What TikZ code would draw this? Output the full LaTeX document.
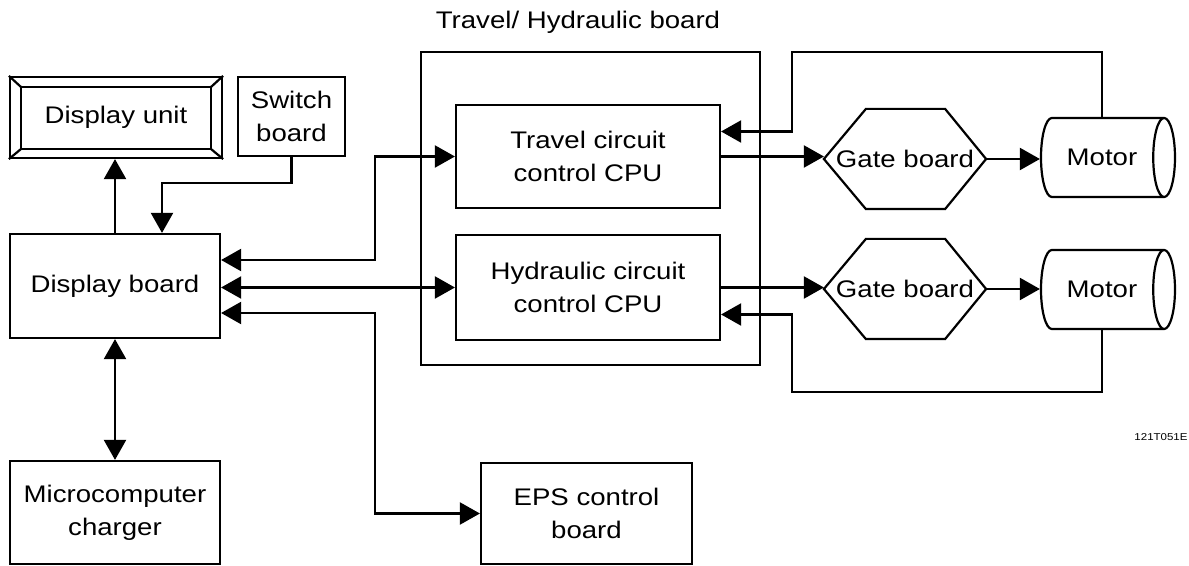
\documentclass[tikz,border=0pt]{standalone}
\usepackage{fontspec}
\setmainfont{Liberation Sans}[FakeStretch=1.15]
\usepackage{tikz}
\usetikzlibrary{shapes.geometric, arrows.meta, positioning, calc}

\begin{document}
\begin{tikzpicture}[
    x=0.5pt, y=-0.5pt,
    line width=1.1pt,
    txt/.style={font=\fontsize{12}{16.5}\selectfont},
    box/.style={draw,rectangle,align=center,inner sep=0pt,txt},
    gate/.style={rectangle,inner sep=0pt,minimum width=80pt,minimum height=49pt,txt},
    motor/.style={draw,cylinder,aspect=1.3,minimum width=39.5pt,minimum height=67pt,inner sep=0pt,txt},
    arr/.style={-{Triangle[length=10pt,width=11pt]}},
    darr/.style={{Triangle[length=10pt,width=11pt]}-{Triangle[length=10pt,width=11pt]}},
  ]
    \useasboundingbox (0,0) rectangle (1189,566);

    % left column
    \node[box, minimum width=106pt, minimum height=40.5pt] (dunit) at (116,117.5) {Display unit};
    \draw ($(dunit.north west)+(12,11)$) rectangle ($(dunit.south east)+(-12,-10)$);
    \foreach \c/\dx/\dy in {north west/12/11, north east/-12/11, south west/12/-10, south east/-12/-10}
      \draw (dunit.\c) -- ++(\dx,\dy);
    \node[box, minimum width=53.5pt, minimum height=39.5pt] (switch) at (291.5,116.5) {Switch\\board};
    \node[box, minimum width=105pt, minimum height=52pt] (dboard) at (115,286) {Display board};
    \node[box, minimum width=105pt, minimum height=51.5pt] (charger) at (115,512.5) {Microcomputer\\charger};

    % travel / hydraulic board
    \node[box, minimum width=169.5pt, minimum height=156.5pt] (thboard) at (590.5,208.5) {};
    \node[txt] (thtitle) at (578,22) {Travel/ Hydraulic board};
    \node[box, minimum width=132pt, minimum height=51.5pt] (travel) at (588,156.5) {Travel circuit\\control CPU};
    \node[box, minimum width=132pt, minimum height=52.5pt] (hydraulic) at (588,287.5) {Hydraulic circuit\\control CPU};
    \node[box, minimum width=105.5pt, minimum height=50.5pt] (eps) at (586.5,513.5) {EPS control\\board};

    % gate boards and motors
    \node[gate] (gate1) at (905,159) {Gate board};
    \node[gate] (gate2) at (905,289) {Gate board};
    \foreach \g in {gate1, gate2}
      \draw (\g.west) -- ($(\g.north west)+(42,0)$) -- ($(\g.north east)+(-41,0)$) -- (\g.east)
        -- ($(\g.south east)+(-41,0)$) -- ($(\g.south west)+(42,0)$) -- cycle;
    \node[motor] (motor1) at (1102,157.5) {Motor};
    \node[motor] (motor2) at (1102,289.5) {Motor};

    \node[font=\fontsize{5}{6}\selectfont] (code) at (1161,437) {121T051E};

    \coordinate (sw) at (162,183);
    \coordinate (bus1) at (375,210);
    \coordinate (bus2) at (375,420);
    \coordinate (fb1) at (792,52);
    \coordinate (fb2) at (792,392);

    \draw[arr] (dboard.north) -- (dboard.north |- dunit.south);
    \draw[arr] (switch.south) |- (sw) -- (sw |- dboard.north);
    \draw[darr] (dboard.south) -- (charger.north);
    \draw[darr] ($(dboard.east)+(0,-26)$) -| (bus1) |- (travel.west);
    \draw[darr] (dboard.east |- hydraulic.west) -- (hydraulic.west);
    \draw[darr] ($(dboard.east)+(0,27)$) -| (bus2) |- (eps.west);
    \draw[arr] (travel.east) -- (travel.east -| gate1.west);
    \draw[arr] (hydraulic.east) -- (hydraulic.east -| gate2.west);
    \draw[arr] (gate1.east) -- (gate1.east -| motor1.west);
    \draw[arr] (gate2.east) -- (gate2.east -| motor2.west);
    \draw[arr] (motor1.north) |- (fb1) |- ($(travel.east)+(0,-25)$);
    \draw[arr] (motor2.south) |- (fb2) |- ($(hydraulic.east)+(0,27)$);
  \end{tikzpicture}
\end{document}
